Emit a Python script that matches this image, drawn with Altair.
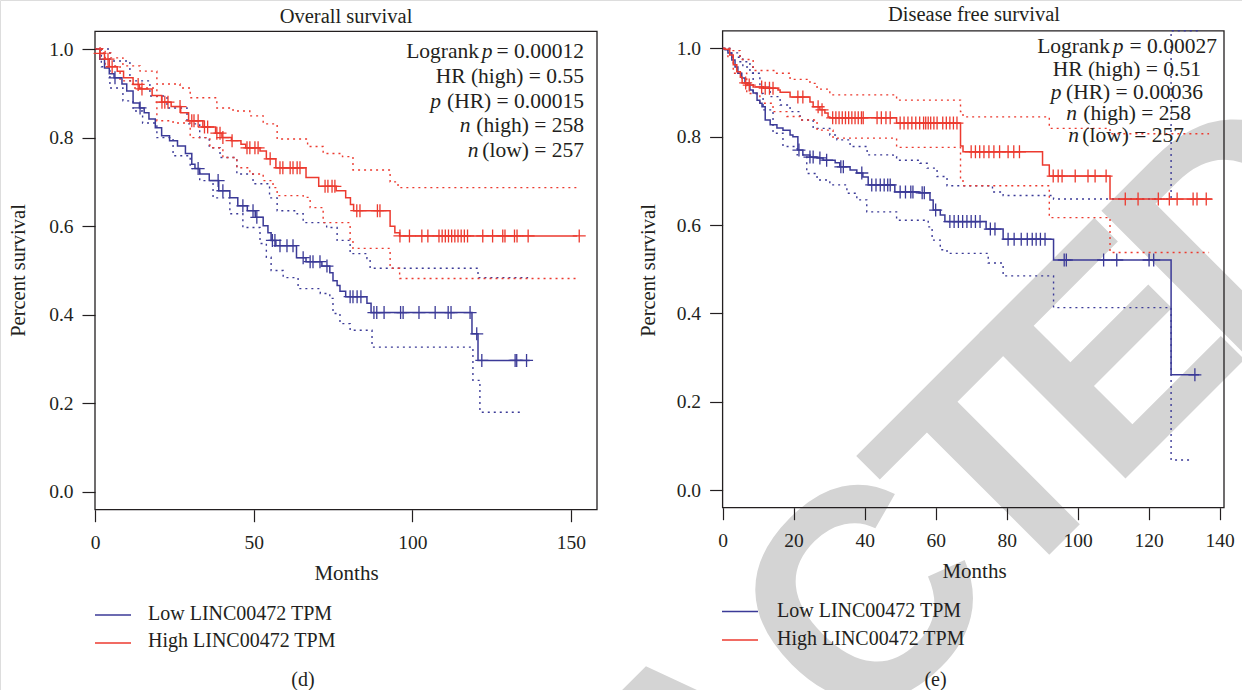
import altair as alt
import pandas as pd

SERIF = "Liberation Serif"
INK = "#231F20"
BLUE = "#3B3A97"
RED = "#EC3A2F"
GREY = "#D4D4D4"

# ---------------- (d) Overall survival : (months, survival) ----------------
OS_LOW = [(0, 1.0), (1.5, 0.977), (3, 0.957), (4.5, 0.944), (6, 0.935), (8.5, 0.921), (10, 0.905),
          (12, 0.878), (14, 0.867), (15.5, 0.856), (17, 0.842), (19, 0.822), (21, 0.804), (23.5, 0.793),
          (26, 0.781), (28.5, 0.764), (30.5, 0.74), (31.5, 0.73), (33, 0.718), (36, 0.703), (39, 0.68),
          (42.5, 0.664), (45, 0.646), (48, 0.635), (50.5, 0.62), (53, 0.601), (54.5, 0.585), (55.5, 0.568),
          (57, 0.556), (63.5, 0.529), (66.5, 0.52), (71.5, 0.51), (74, 0.495), (75, 0.477), (76.3, 0.466),
          (77.2, 0.453), (79, 0.441), (85.7, 0.426), (87, 0.405), (118.8, 0.357), (120.7, 0.297), (137, 0.297)]
OS_HIGH = [(0, 1.0), (1.5, 0.99), (3, 0.977), (4.5, 0.96), (7, 0.95), (9, 0.935), (12, 0.92), (14, 0.91),
           (18, 0.895), (21, 0.88), (24, 0.87), (27, 0.856), (29.5, 0.838), (34, 0.824), (38, 0.81), (40, 0.80),
           (43, 0.793), (46, 0.785), (47.5, 0.777), (52, 0.77), (54, 0.752), (57, 0.732), (66.5, 0.71),
           (70.5, 0.69), (76, 0.68), (79, 0.664), (80.5, 0.649), (81.5, 0.635), (93, 0.60), (94.5, 0.585),
           (96, 0.578), (152, 0.578)]
OS_LOW_UP = [(0, 1.0), (4.7, 0.973), (11, 0.928), (17.3, 0.894), (22.7, 0.867), (29, 0.831), (33, 0.80),
             (36, 0.777), (39.4, 0.755), (44.7, 0.718), (49.8, 0.696), (55, 0.664), (57.4, 0.635), (63.7, 0.628),
             (65.6, 0.608), (73, 0.597), (76.3, 0.568), (80.4, 0.538), (85.7, 0.527), (86.7, 0.505),
             (120.7, 0.484), (136.5, 0.484)]
OS_LOW_DN = [(0, 1.0), (2, 0.96), (4.7, 0.912), (8.8, 0.883), (12, 0.86), (15, 0.833), (19.5, 0.80),
             (24.6, 0.759), (30, 0.73), (33, 0.703), (37.2, 0.664), (42.5, 0.628), (46.6, 0.597), (52, 0.561),
             (54, 0.53), (55.5, 0.50), (59.3, 0.484), (64, 0.459), (71, 0.448), (74, 0.437), (75, 0.403),
             (77.2, 0.38), (80.4, 0.365), (87.3, 0.327), (119.1, 0.252), (121.3, 0.18), (135, 0.18)]
OS_HIGH_UP = [(0, 1.0), (2.5, 0.991), (5, 0.98), (8.8, 0.962), (14.2, 0.95), (19.5, 0.921), (26.8, 0.912),
              (30, 0.89), (38.4, 0.867), (43.5, 0.86), (48.8, 0.849), (53, 0.831), (57.4, 0.797), (67, 0.78),
              (71.9, 0.764), (78, 0.757), (81.3, 0.727), (93, 0.70), (95.5, 0.687), (152, 0.687)]
OS_HIGH_DN = [(0, 1.0), (3.2, 0.962), (7.9, 0.928), (12, 0.912), (19.5, 0.838), (24.6, 0.833), (30, 0.80),
              (36.2, 0.777), (40.3, 0.755), (44.7, 0.732), (48.8, 0.718), (53, 0.703), (56.1, 0.687),
              (57.4, 0.669), (65.6, 0.665), (67.8, 0.642), (71.9, 0.608), (80.4, 0.57), (81.3, 0.55),
              (93, 0.505), (96, 0.482), (152, 0.482)]
OS_LOW_CENS = [6.3, 14.2, 32.5, 38.8, 40.3, 46.6, 49.8, 51, 55.9, 56.7, 58.3, 60.5, 62.4, 65.6, 67.8, 68.7,
               70.9, 73.1, 80.4, 81.3, 82.6, 83.8, 87.9, 88.8, 91.1, 96.3, 97.1, 102.1, 107.2, 111.3, 112.2,
               118.2, 120.3, 121.9, 132.4, 132.9, 136]
OS_HIGH_CENS = [1.6, 4.1, 5.4, 13.6, 14.8, 21.1, 22, 23, 26.8, 30.5, 31.2, 32.5, 34.5, 35.5, 38.4, 39.4, 40.3,
                43.2, 47.9, 48.8, 50.4, 51.4, 55.2, 58.3, 59.2, 61.5, 62.4, 63.7, 64.6, 72.5, 73.4, 74.7, 75.6,
                82.5, 83.5, 89.0, 89.8, 96.1, 99.1, 103, 104.9, 108.4, 109.4, 110.4, 111.4, 112.4, 113.4, 114.4,
                115.4, 116.4, 117.4, 122.2, 125.3, 128.5, 129.2, 132.2, 133, 136.5, 152.6]

# ---------------- (e) Disease free survival ----------------
DFS_LOW = [(0, 1.0), (0.7, 0.997), (1.5, 0.99), (2.6, 0.974), (3.5, 0.958), (4.3, 0.944), (5.4, 0.933),
           (6.3, 0.922), (7.7, 0.906), (8.6, 0.899), (9.7, 0.883), (10.5, 0.876), (11.1, 0.868), (12, 0.838),
           (13.4, 0.827), (15.3, 0.82), (17, 0.815), (19, 0.804), (19.8, 0.80), (21.2, 0.77), (22.6, 0.759),
           (24.6, 0.754), (26.6, 0.752), (28.3, 0.747), (31.7, 0.741), (33, 0.732), (35.9, 0.725), (37.8, 0.718),
           (39.5, 0.709), (41, 0.691), (48.5, 0.675), (55.6, 0.673), (58.4, 0.657), (59.3, 0.634), (61.3, 0.623),
           (62.6, 0.608), (74.2, 0.591), (79, 0.568), (93.2, 0.521), (126.3, 0.261), (134.2, 0.261)]
DFS_HIGH = [(0, 1.0), (0.7, 0.998), (2, 0.985), (3, 0.963), (4, 0.947), (5, 0.935), (5.5, 0.922), (7, 0.917),
            (8.6, 0.913), (11.4, 0.91), (15.6, 0.906), (16.2, 0.901), (19, 0.89), (24.6, 0.879), (25.5, 0.868),
            (27.4, 0.861), (28.8, 0.854), (29.7, 0.845), (30.2, 0.843), (49, 0.831), (67, 0.779), (67.7, 0.766),
            (90.1, 0.736), (92, 0.711), (109.1, 0.659), (137.8, 0.659)]
DFS_LOW_UP = [(0, 1.0), (2, 0.99), (4.9, 0.97), (7.7, 0.944), (10.5, 0.913), (13.4, 0.891), (16.2, 0.872),
              (19, 0.857), (21.8, 0.838), (25.5, 0.819), (30.2, 0.804), (32.2, 0.793), (35.9, 0.778),
              (40.7, 0.759), (48, 0.755), (49, 0.747), (55.6, 0.74), (57.6, 0.729), (60.4, 0.71), (63.2, 0.689),
              (76, 0.675), (79, 0.667), (93.2, 0.659), (126.3, 1.04), (134, 1.04)]
DFS_LOW_DN = [(0, 1.0), (2, 0.98), (5.7, 0.958), (8.6, 0.898), (11.4, 0.861), (14.2, 0.808), (17, 0.778),
              (21, 0.759), (23.7, 0.717), (26.6, 0.702), (30.2, 0.691), (35, 0.672), (37.8, 0.657), (40.6, 0.63),
              (49, 0.611), (57.9, 0.596), (59, 0.566), (61.3, 0.544), (63.2, 0.536), (74.8, 0.514), (79, 0.485),
              (93.2, 0.413), (126.3, 0.068), (131.7, 0.068)]
DFS_HIGH_UP = [(0, 1.0), (2, 0.995), (4.9, 0.975), (8.6, 0.95), (14.8, 0.944), (19, 0.93), (24.6, 0.921),
               (26.6, 0.908), (30.2, 0.895), (49, 0.883), (67, 0.857), (67.7, 0.845), (92, 0.819),
               (109.1, 0.807), (137, 0.807)]
DFS_HIGH_DN = [(0, 1.0), (1.5, 0.98), (3, 0.944), (6.8, 0.898), (10.5, 0.876), (14.2, 0.857), (18.1, 0.846),
               (21.8, 0.838), (26.6, 0.815), (31.1, 0.797), (49, 0.776), (67, 0.702), (67.7, 0.689),
               (92, 0.617), (109.1, 0.538), (137, 0.538)]
DFS_LOW_CENS = [21.5, 24.6, 25.5, 27.4, 29.3, 33.3, 34, 39.2, 42, 43.2, 44.4, 45.5, 46.5, 47.2, 50, 51.5, 53,
                53.6, 56.2, 56.8, 60, 64, 65.2, 66.4, 67.6, 68.8, 70, 71.2, 72.5, 75.4, 76.7, 80.4, 82.1, 84.1,
                85.8, 87.2, 88.3, 89.5, 90.8, 96.2, 96.8, 107.3, 111, 120.1, 121.4, 133]
DFS_HIGH_CENS = [6.5, 7.5, 11, 12, 13.2, 14.2, 21.2, 22.6, 26.9, 28, 31, 31.9, 32.8, 33.7, 34.6, 35.5, 36.4,
                 37.3, 38.2, 39.1, 39.6, 43.5, 44.7, 46, 47.2, 50, 51.1, 52.2, 53.3, 54.4, 55.5, 56.6, 57.2,
                 57.9, 58.6, 59.5, 60.4, 62, 63, 64, 65, 66, 70, 71.2, 72.4, 73.6, 75, 76.4, 78, 80.4, 82, 83.6,
                 93.1, 94.5, 95.6, 99.3, 102.9, 104.9, 108, 113.4, 117, 122.7, 125.8, 128, 132.5, 133.6, 136.2]

SERIES = ["Low", "High"]
LEGEND_LABELS = ["Low LINC00472 TPM", "High LINC00472 TPM"]
Y_TICKS = [0.0, 0.2, 0.4, 0.6, 0.8, 1.0]
OS_X_TICKS = [0, 50, 100, 150]
DFS_X_TICKS = [0, 20, 40, 60, 80, 100, 120, 140]
WATERMARK = "RETRACTED"


def surv_at(pairs, t):
    v = pairs[0][1]
    for tt, ss in pairs:
        if tt <= t:
            v = ss
        else:
            break
    return v


def lines_df(items):
    rows = []
    for pairs, series, lid in items:
        for t, s in pairs:
            rows.append({"t": t, "s": s, "series": series, "line": lid})
    return pd.DataFrame(rows)


def cens_df(items):
    rows = []
    for times, pairs, series in items:
        for t in times:
            rows.append({"t": t, "s": surv_at(pairs, t), "series": series})
    return pd.DataFrame(rows)


def panel(curves, cis, cens, xmax, xr, yr, xticks, title_cx, bottom_y, left_x, ytitle_x):
    xs = alt.Scale(domain=[0, xmax], range=xr, nice=False, zero=False)
    ys = alt.Scale(domain=[-0.04, 1.04], range=yr, nice=False, zero=False)
    xax = alt.Axis(orient="bottom", offset=bottom_y - 690, values=xticks, format="d", domain=False,
                   grid=False, tickSize=12, tickColor=INK, tickWidth=1.2, labelFont=SERIF,
                   labelFontSize=19.5, labelColor=INK, labelPadding=12, labelFlush=False,
                   title="Months", titleFont=SERIF, titleFontSize=21, titleFontWeight="normal",
                   titleColor=INK, titleX=title_cx, titleY=70, titleAlign="center",
                   titleBaseline="alphabetic", zindex=1)
    yax = alt.Axis(orient="left", offset=-left_x, values=Y_TICKS, format=".1f", domain=False,
                   grid=False, tickSize=13, tickColor=INK, tickWidth=1.2, labelFont=SERIF,
                   labelFontSize=19.5, labelColor=INK, labelPadding=9, labelFlush=False,
                   title="Percent survival", titleFont=SERIF, titleFontSize=20.5,
                   titleFontWeight="normal", titleColor=INK, titleX=ytitle_x - left_x, titleY=270,
                   titleAngle=270, titleAlign="center", titleBaseline="middle", zindex=1)
    X = alt.X("t:Q", scale=xs, axis=xax)
    Y = alt.Y("s:Q", scale=ys, axis=yax)
    col = alt.Color("series:N", scale=alt.Scale(domain=SERIES, range=[BLUE, RED]), legend=None)
    frame = alt.Chart(pd.DataFrame({"t": [0], "t2": [xmax], "s": [-0.04], "s2": [1.04]})).mark_rect(
        fillOpacity=0, stroke=INK, strokeWidth=1.3).encode(x=X, x2="t2:Q", y=Y, y2="s2:Q")
    ci = alt.Chart(lines_df(cis)).mark_line(interpolate="step-after", strokeDash=[2, 4],
                                            strokeWidth=1.4).encode(x=X, y=Y, color=col,
                                                                    detail="line:N")
    cur = alt.Chart(lines_df(curves)).mark_line(interpolate="step-after", strokeWidth=1.5).encode(
        x=X, y=Y, color=col, detail="line:N")
    cz = alt.Chart(cens_df(cens)).mark_point(shape="M-1,0L1,0M0,-1L0,1", size=169, strokeWidth=1.3,
                                            filled=False, opacity=1).encode(x=X, y=Y, color=col)
    return alt.layer(frame, ci, cur, cz)


left = panel(
    curves=[(OS_LOW, "Low", "low"), (OS_HIGH, "High", "high")],
    cis=[(OS_LOW_UP, "Low", "lu"), (OS_LOW_DN, "Low", "ld"), (OS_HIGH_UP, "High", "hu"),
         (OS_HIGH_DN, "High", "hd")],
    cens=[(OS_LOW_CENS, OS_LOW, "Low"), (OS_HIGH_CENS, OS_HIGH, "High")],
    xmax=158.2, xr=[95, 597], yr=[509.7, 31.3], xticks=OS_X_TICKS, title_cx=346,
    bottom_y=509.7, left_x=95, ytitle_x=18)

right = panel(
    curves=[(DFS_LOW, "Low", "low"), (DFS_HIGH, "High", "high")],
    cis=[(DFS_LOW_UP, "Low", "lu"), (DFS_LOW_DN, "Low", "ld"), (DFS_HIGH_UP, "High", "hu"),
         (DFS_HIGH_DN, "High", "hd")],
    cens=[(DFS_LOW_CENS, DFS_LOW, "Low"), (DFS_HIGH_CENS, DFS_HIGH, "High")],
    xmax=141.2, xr=[722.6, 1224], yr=[507.7, 30.8], xticks=DFS_X_TICKS, title_cx=974,
    bottom_y=507.7, left_x=722.6, ytitle_x=648)

ONE = pd.DataFrame({"k": [0]})


def txt(s, x, y, size=20, align="left", style="normal", color=INK, font=SERIF, weight="normal",
        angle=0, baseline="alphabetic", clip=False):
    return alt.Chart(ONE).mark_text(text=s, font=font, fontSize=size, align=align, fontStyle=style,
                                    fontWeight=weight, color=color, angle=angle, baseline=baseline,
                                    clip=clip).encode(x=alt.value(x), y=alt.value(y))


def rule(x1, x2, y, color):
    return alt.Chart(ONE).mark_rule(color=color, strokeWidth=1.6).encode(
        x=alt.value(x1), x2=alt.value(x2), y=alt.value(y))


layers = []
# diagonal "RETRACTED" watermark, set letter by letter along a -45 degree baseline
ADV = {"R": 0.722, "E": 0.667, "T": 0.611, "A": 0.722, "C": 0.722, "D": 0.722}
NUDGE = [0, 0, 0, -50, -50, -12, 0, 0, 0]
EM_STEP = 260.0
pos = []
p = 0.0
for i, ch in enumerate(WATERMARK):
    if i > 0:
        p += (ADV[WATERMARK[i - 1]] + ADV[ch]) / 2 * EM_STEP
    pos.append(p)
shift = 198.0 - pos[5]
K = 0.70711
for ch, pp, nd in zip(WATERMARK, pos, NUDGE):
    pp += shift + nd
    layers.append(txt(ch, K * pp + 802, -K * pp + 802, size=300, align="center", color=GREY,
                      font="Liberation Sans", weight="bold", angle=315, baseline="alphabetic",
                      clip=True))
layers += [left, right]

# titles
layers.append(txt("Overall survival", 346, 23, size=20.5, align="center"))
layers.append(txt("Disease free survival", 974, 21, size=20.5, align="center"))

# statistics (text, italic, right edge, baseline)
LEFT_ANN = [("Logrank", False, 479, 58), ("p", True, 492.5, 58), ("= 0.00012", False, 584, 58),
            ("HR (high) = 0.55", False, 584, 83),
            ("p", True, 441, 107.5), ("(HR) = 0.00015", False, 584, 107.5),
            ("n", True, 470.5, 132), ("(high) = 258", False, 584, 132),
            ("n", True, 478.5, 157), ("(low) = 257", False, 584, 157)]
RIGHT_ANN = [("Logrank", False, 1110, 52.5), ("p", True, 1123.5, 52.5), ("= 0.00027", False, 1217, 52.5),
             ("HR (high) = 0.51", False, 1201, 75.5),
             ("p", True, 1061.5, 98.5), ("(HR) = 0.00036", False, 1203, 98.5),
             ("n", True, 1077, 120), ("(high) = 258", False, 1191, 120),
             ("n", True, 1079, 141.5), ("(low) = 257", False, 1184, 141.5)]
for s, it, x, y in LEFT_ANN + RIGHT_ANN:
    layers.append(txt(s, x, y, size=21.5, align="right", style="italic" if it else "normal"))

# legends
for (x0, ys, tx, tys) in [(95, [615, 643], 148, [620, 647]), (722, [611.5, 640], 777, [617, 645])]:
    for lab, col, yy, ty in zip(LEGEND_LABELS, [BLUE, RED], ys, tys):
        layers.append(rule(x0, x0 + 36, yy, col))
        layers.append(txt(lab, tx, ty))

# panel labels
layers.append(txt("(d)", 303, 686, align="center"))
layers.append(txt("(e)", 935.5, 686, align="center"))

chart = alt.layer(*layers).resolve_scale(x="independent", y="independent").properties(
    width=1242, height=690, padding=0, autosize=alt.AutoSizeParams(type="none")
).configure_view(stroke=None).configure(background="white")

chart.save("out.html", embed_options={"renderer": "svg", "actions": False})
